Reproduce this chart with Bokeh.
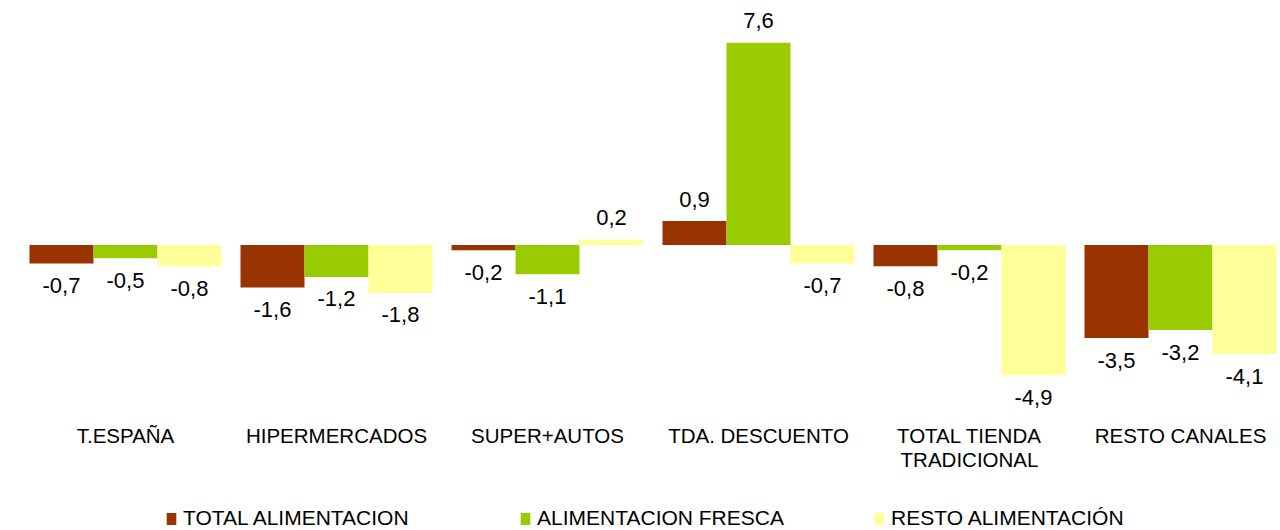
import numpy as np
from bokeh.plotting import figure
from bokeh.models import ColumnDataSource, Range1d, Legend, LegendItem
from bokeh.core.properties import value
from bokeh.embed import file_html
from bokeh.resources import INLINE

categories = ["T.ESPAÑA", "HIPERMERCADOS", "SUPER+AUTOS", "TDA. DESCUENTO",
              "TOTAL TIENDA\nTRADICIONAL", "RESTO CANALES"]
series_names = ["TOTAL ALIMENTACION", "ALIMENTACION FRESCA", "RESTO ALIMENTACIÓN"]
total_alimentacion = [-0.7, -1.6, -0.2, 0.9, -0.8, -3.5]
alimentacion_fresca = [-0.5, -1.2, -1.1, 7.6, -0.2, -3.2]
resto_alimentacion = [-0.8, -1.8, 0.2, -0.7, -4.9, -4.1]
colors = ["#993300", "#99CC00", "#FFFF99"]

FONT = "Liberation Sans"
W, H = 1280, 530
PX_X = 211.0   # pixels per category
PX_Y = 26.6    # pixels per unit
x0 = -125.0 / PX_X
y1 = 244.5 / PX_Y

p = figure(width=W, height=H, output_backend="svg", toolbar_location=None,
           x_range=Range1d(x0, x0 + W / PX_X), y_range=Range1d(y1 - H / PX_Y, y1),
           min_border=0, min_border_left=0, min_border_right=0,
           min_border_top=0, min_border_bottom=0)
p.axis.visible = False
p.grid.visible = False
p.outline_line_color = None
p.background_fill_color = "white"
p.border_fill_color = "white"

bw = 64.0 / PX_X
xs = np.arange(len(categories), dtype=float)
renderers = []
for k, (name, vals, col) in enumerate(zip(series_names,
                                           [total_alimentacion, alimentacion_fresca, resto_alimentacion],
                                           colors)):
    v = np.array(vals)
    src = ColumnDataSource(dict(
        x=xs + (k - 1) * bw,
        top=v,
        lab=[f"{a:.1f}".replace(".", ",") for a in v],
        yoff=np.where(v >= 0, -22, 22),
    ))
    r = p.vbar(x="x", top="top", bottom=0, width=bw, source=src,
               fill_color=col, line_color=None)
    renderers.append(r)
    p.text(x="x", y="top", text="lab", y_offset="yoff", source=src,
           text_align="center", text_baseline="middle",
           text_font=value(FONT), text_font_size="22px", text_color="#000000")

# category labels (split multi-line labels into separate lines)
lx, ltxt, loff = [], [], []
for i, c in enumerate(categories):
    for j, line in enumerate(c.split("\n")):
        lx.append(xs[i]); ltxt.append(line); loff.append(j * 24)
cat_y = y1 - 435.0 / PX_Y
p.text(x=lx, y=[cat_y] * len(lx), text=ltxt, y_offset=loff,
       text_align="center", text_baseline="middle",
       text_font=value(FONT), text_font_size="20.5px", text_color="#000000")

legend = Legend(items=[LegendItem(label=n, renderers=[r]) for n, r in zip(series_names, renderers)],
                orientation="horizontal", location=(165, 0),
                glyph_width=12, glyph_height=15, label_standoff=6,
                label_width=336, spacing=0, padding=0, margin=0,
                label_text_font=FONT, label_text_font_size="21px",
                label_text_color="#000000",
                border_line_color=None, background_fill_alpha=0)
p.add_layout(legend, "center")

open("out.html", "w").write(file_html(p, INLINE))
